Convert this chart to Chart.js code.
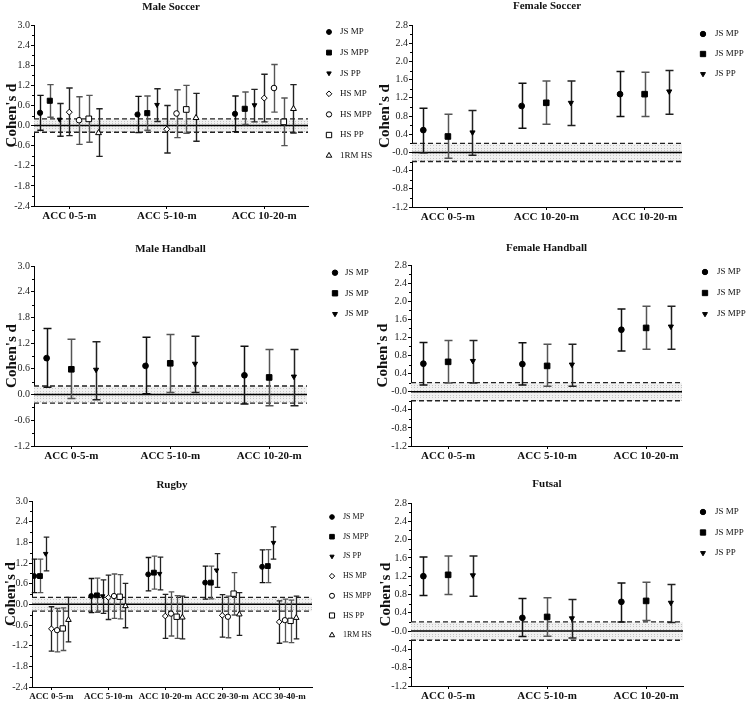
<!DOCTYPE html>
<html><head><meta charset="utf-8">
<script src="https://cdn.jsdelivr.net/npm/chart.js@4/dist/chart.umd.min.js"></script>
<style>
html,body{margin:0;padding:0;background:#fff;}
#wrap{position:relative;width:747px;height:701px;overflow:hidden;background:#fff;}
canvas{position:absolute;}
</style></head>
<body><div id="wrap">
<canvas id="c1" width="373" height="230" style="left:0;top:0"></canvas>
<canvas id="c2" width="374" height="230" style="left:373px;top:0"></canvas>
<canvas id="c3" width="373" height="235" style="left:0;top:230px"></canvas>
<canvas id="c4" width="374" height="235" style="left:373px;top:230px"></canvas>
<canvas id="c5" width="373" height="236" style="left:0;top:465px"></canvas>
<canvas id="c6" width="374" height="236" style="left:373px;top:465px"></canvas>
</div>
<script>
// ---------------- DATA ----------------
// rows = series, columns = categories
const maleSoccerCategories = ['ACC 0-5-m','ACC 5-10-m','ACC 10-20-m'];
const maleSoccerSeries = ['JS MP','JS MPP','JS PP','HS MP','HS MPP','HS PP','1RM HS'];
const maleSoccerD  = [[0.38,0.33,0.35],[0.74,0.37,0.50],[0.18,0.62,0.61],[0.40,-0.11,0.82],[0.16,0.36,1.12],[0.20,0.48,0.11],[-0.22,0.23,0.50]];
const maleSoccerLo = [[-0.14,-0.21,-0.18],[0.25,-0.14,0.03],[-0.32,0.12,0.11],[-0.30,-0.82,0.11],[-0.56,-0.36,0.40],[-0.50,-0.23,-0.60],[-0.92,-0.47,-0.22]];
const maleSoccerHi = [[0.90,0.87,0.88],[1.22,0.88,1.00],[0.66,1.10,1.08],[1.12,0.60,1.53],[0.86,1.07,1.82],[0.90,1.20,0.82],[0.50,0.96,1.22]];
const maleSoccerTicks = ['-2.4','-1.8','-1.2','-0.6','0.0','0.6','1.2','1.8','2.4','3.0'];

const femaleSoccerCategories = ['ACC 0-5-m','ACC 10-20-m','ACC 10-20-m'];
const femaleSoccerSeries = ['JS MP','JS MPP','JS PP'];
const femaleSoccerD  = [[0.49,1.02,1.28],[0.35,1.09,1.28],[0.44,1.09,1.34]];
const femaleSoccerLo = [[-0.01,0.53,0.79],[-0.13,0.62,0.79],[-0.06,0.59,0.84]];
const femaleSoccerHi = [[0.97,1.52,1.78],[0.84,1.57,1.76],[0.92,1.57,1.80]];
const femaleSoccerTicks = ['-1.2','-0.8','-0.4','-0.0','0.4','0.8','1.2','1.6','2.0','2.4','2.8'];

const maleHandballCategories = ['ACC 0-5-m','ACC 5-10-m','ACC 10-20-m'];
const maleHandballSeries = ['JS MP','JS MP','JS MP'];
const maleHandballD  = [[0.85,0.67,0.45],[0.59,0.73,0.40],[0.58,0.72,0.42]];
const maleHandballLo = [[0.17,0.02,-0.22],[-0.09,0.05,-0.26],[-0.12,0.05,-0.26]];
const maleHandballHi = [[1.54,1.34,1.13],[1.29,1.40,1.05],[1.23,1.36,1.05]];
const maleHandballTicks = ['-1.2','-0.6','0.0','0.6','1.2','1.8','2.4','3.0'];

const femaleHandballCategories = ['ACC 0-5-m','ACC 5-10-m','ACC 10-20-m'];
const femaleHandballSeries = ['JS MP','JS MP','JS MPP'];
const femaleHandballD  = [[0.62,0.61,1.37],[0.66,0.57,1.41],[0.68,0.60,1.44]];
const femaleHandballLo = [[0.15,0.15,0.90],[0.19,0.12,0.94],[0.19,0.12,0.94]];
const femaleHandballHi = [[1.09,1.08,1.83],[1.13,1.05,1.89],[1.13,1.05,1.89]];
const femaleHandballTicks = ['-1.2','-0.8','-0.4','-0.0','0.4','0.8','1.2','1.6','2.0','2.4','2.8'];

const rugbyCategories = ['ACC 0-5-m','ACC 5-10-m','ACC 10-20-m','ACC 20-30-m','ACC 30-40-m'];
const rugbySeries = ['JS MP','JS MPP','JS PP','HS MP','HS MPP','HS PP','1RM HS'];
const rugbyD  = [[0.82,0.24,0.87,0.63,1.09],[0.82,0.26,0.92,0.63,1.11],[1.47,0.24,0.89,0.99,1.79],[-0.71,0.20,-0.34,-0.32,-0.51],[-0.75,0.24,-0.27,-0.36,-0.46],[-0.70,0.22,-0.36,0.31,-0.48],[-0.45,-0.05,-0.38,-0.29,-0.39]];
const rugbyLo = [[0.34,-0.24,0.39,0.15,0.63],[0.34,-0.23,0.44,0.16,0.63],[0.97,-0.26,0.42,0.49,1.31],[-1.36,-0.44,-0.99,-0.95,-1.13],[-1.38,-0.41,-0.92,-0.97,-1.09],[-1.34,-0.42,-0.99,-0.31,-1.11],[-1.09,-0.68,-1.00,-0.90,-1.00]];
const rugbyHi = [[1.31,0.75,1.36,1.11,1.58],[1.31,0.76,1.40,1.11,1.59],[1.95,0.71,1.37,1.47,2.25],[-0.07,0.85,0.29,0.28,0.10],[-0.12,0.88,0.36,0.24,0.15],[-0.10,0.86,0.25,0.92,0.12],[0.20,0.61,0.24,0.34,0.24]];
const rugbyTicks = ['-2.4','-1.8','-1.2','-0.6','0.0','0.6','1.2','1.8','2.4','3.0'];

const futsalCategories = ['ACC 0-5-m','ACC 5-10-m','ACC 10-20-m'];
const futsalSeries = ['JS MP','JS MPP','JS PP'];
const futsalD  = [[1.20,0.29,0.64],[1.23,0.31,0.66],[1.22,0.28,0.62]];
const futsalLo = [[0.78,-0.12,0.20],[0.80,-0.11,0.23],[0.76,-0.15,0.19]];
const futsalHi = [[1.62,0.71,1.05],[1.64,0.73,1.07],[1.64,0.69,1.02]];
const futsalTicks = ['-1.2','-0.8','-0.4','-0.0','0.4','0.8','1.2','1.6','2.0','2.4','2.8'];

const trivialBand = [-0.2, 0.2];

// ---------------- STYLE ----------------
Chart.defaults.font.family = "'Liberation Serif','Times New Roman',serif";
Chart.defaults.color = '#111';

const markerStyles = [
  {pointStyle:'circle',   rotation:0,   fill:'#000', radius:2.6, bar:'#111'},
  {pointStyle:'rect',     rotation:0,   fill:'#000', radius:3.6, bar:'#555'},
  {pointStyle:'triangle', rotation:180, fill:'#000', radius:2.7, bar:'#222'},
  {pointStyle:'rectRot',  rotation:0,   fill:'#fff', radius:3.0, bar:'#222'},
  {pointStyle:'circle',   rotation:0,   fill:'#fff', radius:2.8, bar:'#555'},
  {pointStyle:'rect',     rotation:0,   fill:'#fff', radius:4.0, bar:'#555'},
  {pointStyle:'triangle', rotation:0,   fill:'#fff', radius:3.4, bar:'#222'}
];

function drawMarker(ctx, st, r, x, y) {
  if (Chart.helpers && Chart.helpers.drawPoint) {
    ctx.save();
    ctx.fillStyle = st.fill; ctx.strokeStyle = '#000'; ctx.lineWidth = 1;
    Chart.helpers.drawPoint(ctx, {pointStyle: st.pointStyle, rotation: st.rotation, radius: r, borderWidth: 1}, x, y);
    ctx.restore();
  }
}

const refBandPlugin = {
  id: 'refBand',
  beforeDatasetsDraw(chart) {
    const {ctx, chartArea: a, scales: {y}} = chart;
    const yt = y.getPixelForValue(trivialBand[1]);
    const yb = y.getPixelForValue(trivialBand[0]);
    const y0 = y.getPixelForValue(0);
    ctx.save();
    ctx.fillStyle = '#f1f1f1';
    ctx.fillRect(a.left, yt, a.right - a.left, yb - yt);
    ctx.strokeStyle = '#c4c4c4'; ctx.lineWidth = 1; ctx.setLineDash([1, 2]);
    for (let yy = yt + 2; yy < yb - 1; yy += 2.5) {
      ctx.beginPath(); ctx.moveTo(a.left, Math.round(yy) + 0.5); ctx.lineTo(a.right, Math.round(yy) + 0.5); ctx.stroke();
    }
    ctx.strokeStyle = '#222'; ctx.lineWidth = 1.3; ctx.setLineDash([5, 3]);
    [yt, yb].forEach(v => { ctx.beginPath(); ctx.moveTo(a.left, v); ctx.lineTo(a.right, v); ctx.stroke(); });
    ctx.setLineDash([]); ctx.strokeStyle = '#000'; ctx.lineWidth = 1.5;
    ctx.beginPath(); ctx.moveTo(a.left, y0); ctx.lineTo(a.right, y0); ctx.stroke();
    ctx.restore();
  }
};

const errorBarPlugin = {
  id: 'errBars',
  beforeDatasetsDraw(chart, args, opts) {
    const {ctx, scales: {y}} = chart;
    chart.data.datasets.forEach((ds, i) => {
      const meta = chart.getDatasetMeta(i);
      meta.data.forEach((pt, k) => {
        const yl = y.getPixelForValue(ds.errLo[k]);
        const yh = y.getPixelForValue(ds.errHi[k]);
        const x = Math.round(pt.x) + 0.5;
        ctx.save();
        ctx.strokeStyle = ds.barColor; ctx.lineWidth = opts.lw;
        ctx.beginPath();
        ctx.moveTo(x, yl); ctx.lineTo(x, yh);
        ctx.moveTo(x - opts.cap, yl); ctx.lineTo(x + opts.cap, yl);
        ctx.moveTo(x - opts.cap, yh); ctx.lineTo(x + opts.cap, yh);
        ctx.stroke();
        ctx.restore();
      });
    });
  }
};

const minorTickPlugin = {
  id: 'minorTicks',
  afterDraw(chart, args, opts) {
    const {ctx, chartArea: a, scales: {y}} = chart;
    const vals = opts.values;
    ctx.save(); ctx.strokeStyle = '#000'; ctx.lineWidth = 1;
    for (let i = 0; i < vals.length - 1; i++) {
      const p = Math.round(y.getPixelForValue((vals[i] + vals[i + 1]) / 2)) + 0.5;
      ctx.beginPath(); ctx.moveTo(a.left - 2, p); ctx.lineTo(a.left, p); ctx.stroke();
    }
    ctx.restore();
  }
};

const sideLegendPlugin = {
  id: 'sideLegend',
  afterDraw(chart, args, opts) {
    const ctx = chart.ctx;
    chart.data.datasets.forEach((ds, i) => {
      const yy = opts.y0 + i * opts.dy;
      drawMarker(ctx, markerStyles[i], ds.pointRadius * 0.95, opts.x, yy);
      ctx.save();
      ctx.fillStyle = '#111';
      ctx.font = opts.size + "px 'Liberation Serif','Times New Roman',serif";
      ctx.textBaseline = 'middle'; ctx.textAlign = 'left';
      ctx.fillText(ds.label, opts.tx, yy);
      ctx.restore();
    });
  }
};

function makePanel(cfg) {
  const canvas = document.getElementById(cfg.id);
  const W = canvas.width, H = canvas.height;
  const A = cfg.area;
  const nS = cfg.series.length;
  const center = (nS - 1) / 2;
  const tickVals = cfg.ticks.map(t => parseFloat(t));
  const datasets = cfg.series.map((name, j) => {
    const st = markerStyles[j];
    return {
      label: name,
      data: cfg.cats.map((c, g) => ({x: g * cfg.stride + j, y: cfg.D[j][g]})),
      errLo: cfg.Lo[j], errHi: cfg.Hi[j], barColor: st.bar,
      pointStyle: st.pointStyle, pointRotation: st.rotation,
      pointRadius: st.radius * cfg.ms, pointHoverRadius: st.radius * cfg.ms,
      pointBackgroundColor: st.fill, pointBorderColor: '#000', pointBorderWidth: 1,
      showLine: false
    };
  });
  const tLH = 11 * 1.2;
  const tTop = Math.max(0, cfg.titleY - tLH / 2);
  new Chart(canvas, {
    type: 'scatter',
    data: {datasets},
    options: {
      responsive: false, animation: false, events: [], devicePixelRatio: 1,
      layout: {padding: {left: 0, top: 0, right: W - A.r, bottom: 0}},
      plugins: {
        legend: {display: false}, tooltip: {enabled: false},
        title: {display: true, text: cfg.title, fullSize: false, color: '#111',
          font: {size: 11, weight: 'bold', lineHeight: 1.2},
          padding: {top: tTop, bottom: A.t - tTop - tLH}},
        errBars: {cap: cfg.cap, lw: cfg.lw},
        minorTicks: {values: tickVals},
        sideLegend: cfg.legend
      },
      scales: {
        x: {
          type: 'linear', min: cfg.xMin, max: cfg.xMax,
          afterBuildTicks: s => { s.ticks = cfg.cats.map((c, g) => ({value: g * cfg.stride + center})); },
          afterFit: s => { s.height = H - A.b; },
          ticks: {autoSkip: false, maxRotation: 0, padding: 1, color: '#111',
            font: {size: cfg.xFont, weight: 'bold'}, callback: (v, i) => cfg.cats[i]},
          grid: {display: true, drawOnChartArea: false, drawTicks: true, tickLength: 3, color: '#000'},
          border: {display: true, color: '#000', width: 1}
        },
        y: {
          type: 'linear', min: tickVals[0], max: tickVals[tickVals.length - 1],
          afterBuildTicks: s => { s.ticks = tickVals.map(v => ({value: v})); },
          afterFit: s => { s.width = A.l; },
          ticks: {autoSkip: false, padding: 1, color: '#222', font: {size: 10},
            callback: (v, i) => cfg.ticks[i]},
          grid: {display: true, drawOnChartArea: false, drawTicks: true, tickLength: 3, color: '#000'},
          border: {display: true, color: '#000', width: 1},
          title: {display: true, text: "Cohen's d", color: '#111',
            font: {size: 15, weight: 'bold', lineHeight: 1.2},
            padding: {top: cfg.yTitleX - 9, bottom: 0}}
        }
      }
    },
    plugins: [refBandPlugin, errorBarPlugin, minorTickPlugin, sideLegendPlugin]
  });
}

makePanel({id: 'c1', title: 'Male Soccer', titleY: 7, area: {l: 34, t: 25, r: 308, b: 206},
  cats: maleSoccerCategories, series: maleSoccerSeries, D: maleSoccerD, Lo: maleSoccerLo, Hi: maleSoccerHi,
  ticks: maleSoccerTicks, stride: 10, xMin: -0.62, xMax: 27.49, yTitleX: 12, cap: 3.2, lw: 1.4, ms: 1, xFont: 11,
  legend: {x: 329, tx: 340, y0: 32, dy: 20.6, size: 9}});

makePanel({id: 'c2', title: 'Female Soccer', titleY: 6.5, area: {l: 39, t: 25, r: 309, b: 207},
  cats: femaleSoccerCategories, series: femaleSoccerSeries, D: femaleSoccerD, Lo: femaleSoccerLo, Hi: femaleSoccerHi,
  ticks: femaleSoccerTicks, stride: 4, xMin: -0.46, xMax: 10.52, yTitleX: 12, cap: 4, lw: 1.5, ms: 1.1, xFont: 11,
  legend: {x: 330, tx: 342, y0: 34, dy: 20, size: 9}});

makePanel({id: 'c3', title: 'Male Handball', titleY: 19, area: {l: 34, t: 36, r: 307, b: 216},
  cats: maleHandballCategories, series: maleHandballSeries, D: maleHandballD, Lo: maleHandballLo, Hi: maleHandballHi,
  ticks: maleHandballTicks, stride: 4, xMin: -0.51, xMax: 10.53, yTitleX: 12, cap: 4, lw: 1.5, ms: 1.1, xFont: 11,
  legend: {x: 335, tx: 345, y0: 42.7, dy: 20.6, size: 9}});

makePanel({id: 'c4', title: 'Female Handball', titleY: 18, area: {l: 38, t: 35, r: 309, b: 216},
  cats: femaleHandballCategories, series: femaleHandballSeries, D: femaleHandballD, Lo: femaleHandballLo, Hi: femaleHandballHi,
  ticks: femaleHandballTicks, stride: 4, xMin: -0.50, xMax: 10.45, yTitleX: 10, cap: 4, lw: 1.5, ms: 1.1, xFont: 11,
  legend: {x: 332, tx: 344, y0: 42, dy: 21, size: 9}});

makePanel({id: 'c5', title: 'Rugby', titleY: 20, area: {l: 32, t: 36, r: 312, b: 222},
  cats: rugbyCategories, series: rugbySeries, D: rugbyD, Lo: rugbyLo, Hi: rugbyHi,
  ticks: rugbyTicks, stride: 10, xMin: -0.40, xMax: 48.76, yTitleX: 11, cap: 2.8, lw: 1.3, ms: 0.95, xFont: 9,
  legend: {x: 332, tx: 343, y0: 52, dy: 19.7, size: 8}});

makePanel({id: 'c6', title: 'Futsal', titleY: 19, area: {l: 38, t: 38, r: 310, b: 221},
  cats: futsalCategories, series: futsalSeries, D: futsalD, Lo: futsalLo, Hi: futsalHi,
  ticks: futsalTicks, stride: 4, xMin: -0.50, xMax: 10.49, yTitleX: 12.7, cap: 4, lw: 1.5, ms: 1.1, xFont: 11,
  legend: {x: 330, tx: 342, y0: 47, dy: 20.5, size: 9}});
</script>
</body></html>
